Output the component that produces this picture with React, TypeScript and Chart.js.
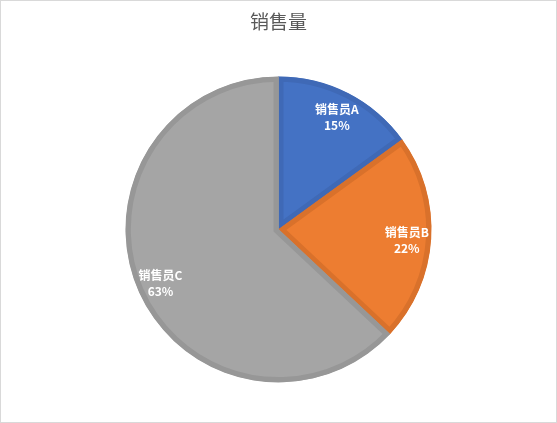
import React, { useEffect, useRef } from "react";
import { Chart, registerables } from "chart.js";

Chart.register(...registerables);

const categories = ["销售员A", "销售员B", "销售员C"];
const salesValues = [15, 22, 63];
const fillColors = ["#4472C4", "#ED7D31", "#A5A5A5"];
const borderColors = ["#3F69B6", "#D9712B", "#979797"];
const chartTitle = "销售量";

const FONT = "'Noto Sans CJK SC', 'Microsoft YaHei', sans-serif";

const labelPlugin = {
  id: "pieLabels",
  afterDatasetsDraw(chart: any) {
    const ctx = chart.ctx;
    const meta = chart.getDatasetMeta(0);
    const data = chart.data.datasets[0].data as number[];
    const total = data.reduce((a: number, b: number) => a + b, 0);
    ctx.save();
    ctx.fillStyle = "#FFFFFF";
    ctx.textAlign = "center";
    ctx.textBaseline = "middle";
    ctx.font = `bold 12px ${FONT}`;
    meta.data.forEach((arc: any, i: number) => {
      const { x, y, startAngle, endAngle, outerRadius } = arc.getProps(
        ["x", "y", "startAngle", "endAngle", "outerRadius"],
        true
      );
      const mid = (startAngle + endAngle) / 2;
      const r = outerRadius * 0.84;
      const cx = x + Math.cos(mid) * r;
      const cy = y + Math.sin(mid) * r + 3;
      const pct = Math.round((data[i] / total) * 100) + "%";
      ctx.fillText(String(chart.data.labels[i]), cx, cy - 8);
      ctx.fillText(pct, cx, cy + 8);
    });
    ctx.restore();
  },
};

export default function App() {
  const ref = useRef<HTMLCanvasElement | null>(null);

  useEffect(() => {
    document.body.style.margin = "0";
    if (!ref.current) return;
    const chart = new Chart(ref.current, {
      type: "pie",
      data: {
        labels: categories,
        datasets: [
          {
            data: salesValues,
            backgroundColor: fillColors,
            borderColor: borderColors,
            borderWidth: 5,
            borderAlign: "inner",
            borderJoinStyle: "miter",
            hoverOffset: 0,
          } as any,
        ],
      },
      options: {
        animation: false,
        responsive: false,
        maintainAspectRatio: false,
        radius: 153,
        layout: { padding: { top: 0, bottom: 6, left: 0, right: 0 } },
        plugins: {
          legend: { display: false },
          tooltip: { enabled: false },
          title: {
            display: true,
            text: chartTitle,
            color: "#595959",
            font: { family: FONT, size: 19, weight: "normal" },
            padding: { top: 9, bottom: 10 },
          },
        },
      } as any,
      plugins: [labelPlugin],
    });
    return () => chart.destroy();
  }, []);

  return (
    <div
      style={{
        width: 557,
        height: 423,
        boxSizing: "border-box",
        border: "1px solid #D9D9D9",
        background: "#FFFFFF",
        overflow: "hidden",
      }}
    >
      <canvas ref={ref} width={555} height={421} style={{ display: "block", width: 555, height: 421 }} />
    </div>
  );
}
